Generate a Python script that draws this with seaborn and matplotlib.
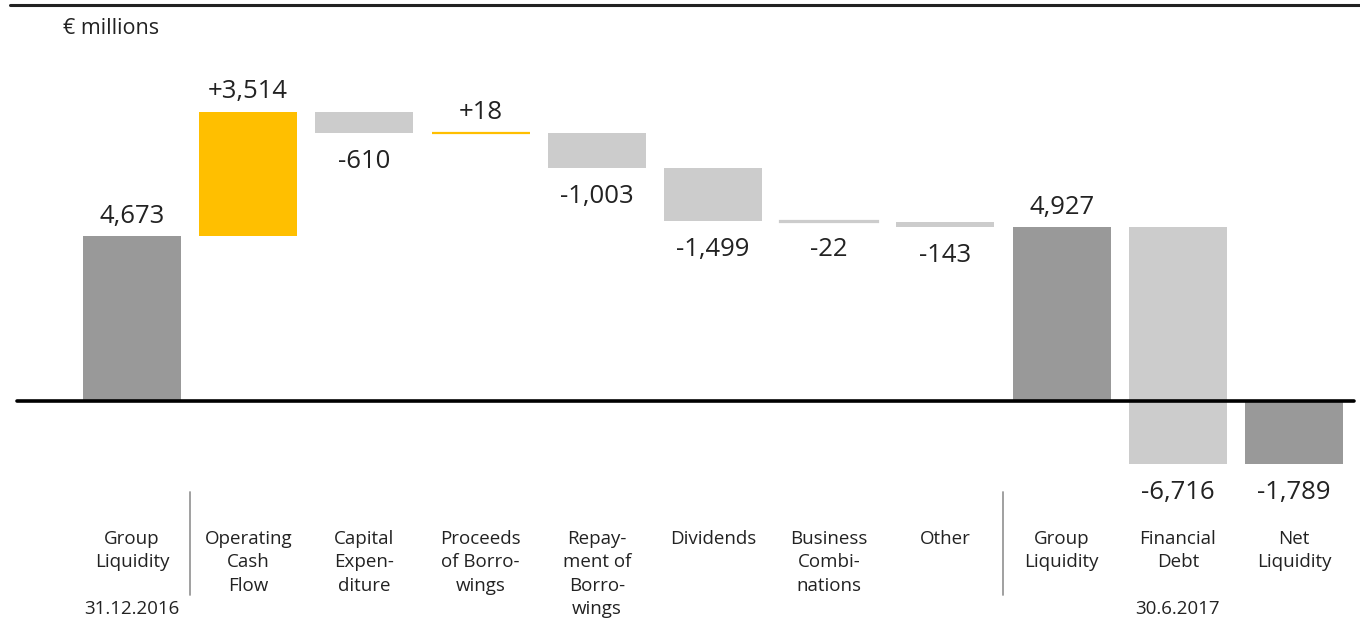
import matplotlib
matplotlib.use("Agg")
import matplotlib.pyplot as plt
import matplotlib.transforms as mtransforms
import seaborn as sns
import numpy as np

# ---- data ----
categories = ["Group\nLiquidity", "Operating\nCash\nFlow", "Capital\nExpen-\nditure",
              "Proceeds\nof Borro-\nwings", "Repay-\nment of\nBorro-\nwings", "Dividends",
              "Business\nCombi-\nnations", "Other", "Group\nLiquidity", "Financial\nDebt",
              "Net\nLiquidity"]
keys = ["GL 2016", "OCF", "CapEx", "Proceeds", "Repayment", "Dividends",
        "Business Combinations", "Other", "GL 2017", "Financial Debt", "Net Liquidity"]
values = [4673, 3514, -610, 18, -1003, -1499, -22, -143, 4927, -6716, -1789]
is_total = [True, False, False, False, False, False, False, False, True, False, True]
date_labels = {0: "31.12.2016", 9: "30.6.2017"}
unit_label = "€ millions"

# ---- waterfall geometry from data ----
bottoms, heights = [], []
running = 0
for v, t in zip(values, is_total):
    if t:
        bottoms.append(0); heights.append(v); running = v
    else:
        bottoms.append(running); heights.append(v); running += v

YELLOW = "#FFBF00"
DARK = "#999999"
LIGHT = "#CCCCCC"
colors = [DARK if t else (YELLOW if v > 0 else LIGHT) for v, t in zip(values, is_total)]

sns.set_style("white")
plt.rcParams["font.family"] = ["Open Sans", "DejaVu Sans"]
TXT = "#222222"

fig = plt.figure(figsize=(13.6, 6.19), dpi=100)
ax = fig.add_axes([0, 0, 1, 1])

sns.barplot(x=keys, y=heights, hue=keys, palette=colors, legend=False,
            width=0.845, saturation=1, ax=ax, order=keys, hue_order=keys)

for patch, b, h, c in zip(ax.patches, bottoms, heights, colors):
    patch.set_y(b)
    patch.set_height(h)
    patch.set_edgecolor(c)
    patch.set_linewidth(1.6 if abs(h) < 50 else 0)

# axis ranges so the figure fills like the reference
ax.set_xlim(-1.136, 10.568)
ax.set_ylim(-6174, 11357)
ax.axis("off")

# value labels
for i, (v, t, b, h) in enumerate(zip(values, is_total, bottoms, heights)):
    label = f"{v:,}" if t else f"{v:+,}"
    end = b + h
    off = 20 if h >= 0 else -28
    ax.annotate(label, (i, end), xytext=(0, off), textcoords="offset pixels",
                ha="center", va="center", fontsize=18.5, color=TXT)

# zero line
ax.axhline(0, xmin=17 / 1360, xmax=1354 / 1360, color="black", lw=2.6)

# category labels
H = 619
blend = mtransforms.blended_transform_factory(ax.transData, fig.transFigure)
for i, lab in enumerate(categories):
    ax.text(i, 1 - 530 / H, lab, transform=blend, ha="center", va="top",
            fontsize=13.5, color=TXT, linespacing=1.38)
for i, d in date_labels.items():
    ax.text(i, 1 - 609 / H, d, transform=blend, ha="center",
            va="center", fontsize=13.5, color=TXT)

# separators
for xs in (0.5, 7.5):
    ax.plot([xs, xs], [1 - 492 / H, 1 - 595 / H], transform=blend,
            color="#999999", lw=1.3, clip_on=False)

# top rule and unit label
fig.add_artist(plt.Line2D([10 / 1360, 1], [1 - 5 / H, 1 - 5 / H],
                          color="#222222", lw=2.2, transform=fig.transFigure))
fig.text(63 / 1360, 1 - 28 / H, unit_label, ha="left", va="center",
         fontsize=15.5, color=TXT)

fig.savefig("out.png", dpi=100)
